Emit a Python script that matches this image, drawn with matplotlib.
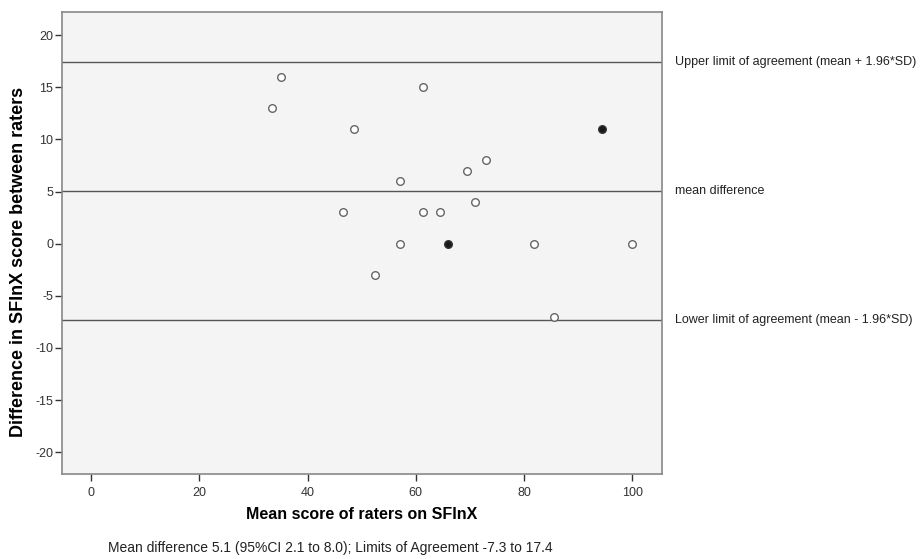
import matplotlib
matplotlib.use("Agg")
import matplotlib.pyplot as plt
from matplotlib.transforms import blended_transform_factory

plt.rcParams['font.family'] = ['Liberation Sans', 'DejaVu Sans']
plt.rcParams['axes.unicode_minus'] = False

# mean score of raters (x) and difference between raters (y)
mean_open = [35.1, 33.5, 61.4, 48.5, 72.9, 69.4, 57.0, 71.0, 46.5, 61.4, 64.5,
             57.0, 81.9, 99.9, 52.5, 85.5]
diff_open = [16, 13, 15, 11, 8, 7, 6, 4, 3, 3, 3, 0, 0, 0, -3, -7]
mean_filled = [94.4, 66.0]
diff_filled = [11, 0]

mean_diff = 5.1
lower_loa = -7.3
upper_loa = 17.4

line_labels = ["Upper limit of agreement (mean + 1.96*SD)",
               "mean difference",
               "Lower limit of agreement (mean - 1.96*SD)"]

x_ticks = [0, 20, 40, 60, 80, 100]
y_ticks = [20, 15, 10, 5, 0, -5, -10, -15, -20]

fig = plt.figure(figsize=(9.21, 5.59), dpi=100)
ax = fig.add_axes([0.067, 0.152, 0.652, 0.826])
ax.set_facecolor('#f4f4f4')

for v in [upper_loa, mean_diff, lower_loa]:
    ax.axhline(v, color='#555555', lw=1.0, zorder=1)

ax.scatter(mean_open, diff_open, s=30, facecolors='white', edgecolors='#666666',
           linewidths=1.0, zorder=3)
ax.scatter(mean_filled, diff_filled, s=30, facecolors='#1a1a1a', edgecolors='#333333',
           linewidths=1.0, zorder=3)

ax.set_xlim(-5.4, 105.5)
ax.set_ylim(-22.1, 22.2)
ax.set_xticks(x_ticks)
ax.set_yticks(y_ticks)
ax.tick_params(axis='both', labelsize=9, colors='#333333', length=5, width=1)
ax.tick_params(axis='x', pad=4)
ax.tick_params(axis='y', pad=1)
for sp in ax.spines.values():
    sp.set_color('#888888')
    sp.set_linewidth(1.2)

ax.set_xlabel("Mean score of raters on SFInX", fontsize=11.5, fontweight='bold', labelpad=6)
ax.set_ylabel("Difference in SFInX score between raters", fontsize=13, fontweight='bold')
ax.yaxis.set_label_coords(-0.057, 0.459)

trans = blended_transform_factory(ax.transAxes, ax.transData)
for v, lab in zip([upper_loa, mean_diff, lower_loa], line_labels):
    ax.text(1.021, v, lab, transform=trans, fontsize=9, va='center', ha='left',
            color='#222222', clip_on=False)

fig.text(0.117, 0.02, "Mean difference 5.1 (95%CI 2.1 to 8.0); Limits of Agreement -7.3 to 17.4",
         fontsize=10, ha='left', va='center', color='#222222')

fig.savefig("out.png", dpi=100)
